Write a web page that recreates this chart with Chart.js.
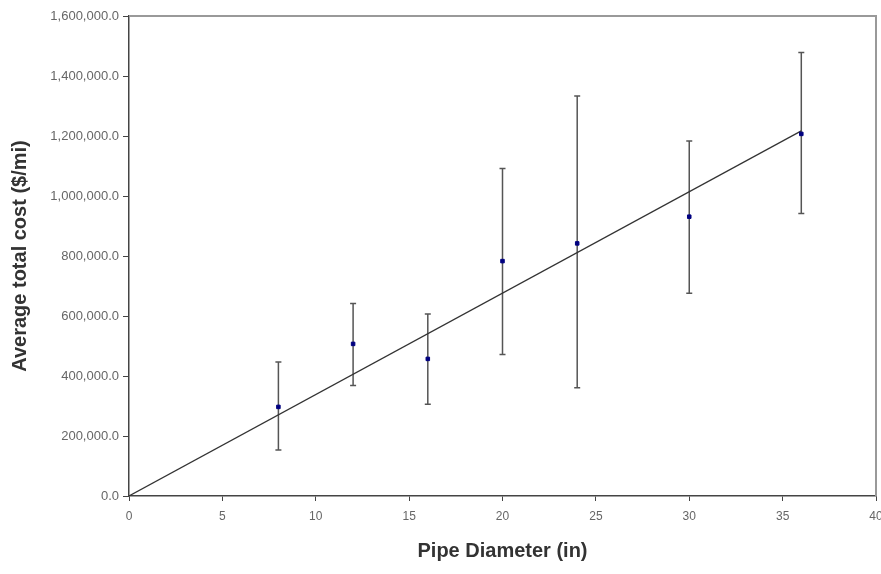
<!DOCTYPE html>
<html>
<head>
<meta charset="utf-8">
<title>Average total cost vs pipe diameter</title>
<script src="https://cdn.jsdelivr.net/npm/chart.js@4"></script>
<style>
  html, body { margin: 0; padding: 0; background: #fff; }
  #wrap { width: 881px; height: 574px; }
</style>
</head>
<body>
<div id="wrap"><canvas id="costChart" width="881" height="574"></canvas></div>
<script>
// Values
const diameters = [8, 12, 16, 20, 24, 30, 36];
const avgCost = [297000, 507000, 457000, 783000, 842000, 931000, 1207000];
const errHigh = [447000, 642000, 607000, 1092000, 1333000, 1183000, 1478000];
const errLow = [153000, 368000, 306000, 472000, 361000, 676000, 942000];

// Linear trend line through the origin
const trendX = [0, 36];
const trendY = [0, 1217000];

const xTicks = [0, 5, 10, 15, 20, 25, 30, 35, 40];
const yTicks = [0, 200000, 400000, 600000, 800000, 1000000, 1200000, 1400000, 1600000];

const FONT = "'Liberation Sans', Arial, sans-serif";

// Draw the min/max bars before the points so the dots sit on top
const errorBarPlugin = {
    id: 'errorBars',
    beforeDatasetsDraw(chart) {
        const ctx = chart.ctx;
        const xs = chart.scales.x;
        const ys = chart.scales.y;
        ctx.save();
        ctx.strokeStyle = '#555';
        ctx.lineWidth = 1.5;
        diameters.forEach((d, i) => {
            const px = xs.getPixelForValue(d);
            const top = ys.getPixelForValue(errHigh[i]);
            const bot = ys.getPixelForValue(errLow[i]);
            ctx.beginPath();
            ctx.moveTo(px, top);
            ctx.lineTo(px, bot);
            ctx.moveTo(px - 3, top);
            ctx.lineTo(px + 3, top);
            ctx.moveTo(px - 3, bot);
            ctx.lineTo(px + 3, bot);
            ctx.stroke();
        });
        ctx.restore();
    }
};

// Grey frame on the top and right of the plot area
const framePlugin = {
    id: 'frame',
    afterDraw(chart) {
        const { top, right, left, bottom } = chart.chartArea;
        const ctx = chart.ctx;
        ctx.save();
        ctx.strokeStyle = '#999';
        ctx.lineWidth = 2;
        ctx.beginPath();
        ctx.moveTo(left, top);
        ctx.lineTo(right, top);
        ctx.lineTo(right, bottom);
        ctx.stroke();
        ctx.restore();
    }
};

const chart = new Chart(document.getElementById('costChart').getContext('2d'), {
    type: 'scatter',
    data: {
        datasets: [
            {
                label: 'Trend',
                type: 'line',
                data: trendX.map((x, i) => ({ x: x, y: trendY[i] })),
                borderColor: '#333',
                borderWidth: 1.2,
                pointRadius: 0,
                fill: false,
                order: 2
            },
            {
                label: 'Average total cost',
                data: diameters.map((d, i) => ({ x: d, y: avgCost[i] })),
                backgroundColor: '#000080',
                borderColor: '#000080',
                pointStyle: 'rect',
                pointRadius: 2.5,
                order: 1
            }
        ]
    },
    options: {
        responsive: false,
        animation: false,
        devicePixelRatio: 1,
        layout: { padding: { top: 16, right: 4, left: 0, bottom: 0 } },
        plugins: {
            legend: { display: false },
            tooltip: { enabled: false }
        },
        scales: {
            x: {
                type: 'linear',
                min: 0,
                max: 40,
                afterBuildTicks: (s) => { s.ticks = xTicks.map(v => ({ value: v })); },
                afterFit: (s) => {
                    s.height = 78;
                    // let the "40" label overhang the plot edge instead of shrinking it
                    s.paddingLeft = 0;
                    s.paddingRight = 0;
                },
                ticks: {
                    font: { family: FONT, size: 12 },
                    color: '#666',
                    padding: 8,
                    maxRotation: 0
                },
                grid: { drawOnChartArea: false, drawTicks: true, tickLength: 5, color: '#444' },
                border: { color: '#444', width: 1.5 },
                title: {
                    display: true,
                    text: 'Pipe Diameter (in)',
                    font: { family: FONT, size: 20, weight: 'bold' },
                    color: '#333',
                    padding: { top: 0, bottom: 11 }
                }
            },
            y: {
                type: 'linear',
                min: 0,
                max: 1600000,
                afterBuildTicks: (s) => { s.ticks = yTicks.map(v => ({ value: v })); },
                afterFit: (s) => { s.width = 129; },
                ticks: {
                    font: { family: FONT, size: 13 },
                    color: '#666',
                    padding: 4,
                    callback: (v) => v.toLocaleString('en-US', { minimumFractionDigits: 1, maximumFractionDigits: 1 })
                },
                grid: { drawOnChartArea: false, drawTicks: true, tickLength: 6, color: '#444' },
                border: { color: '#444', width: 1.5 },
                title: {
                    display: true,
                    text: 'Average total cost ($/mi)',
                    font: { family: FONT, size: 20, weight: 'bold' },
                    color: '#333',
                    padding: { top: 8, bottom: 0 }
                }
            }
        }
    },
    plugins: [errorBarPlugin, framePlugin]
});
</script>
</body>
</html>
